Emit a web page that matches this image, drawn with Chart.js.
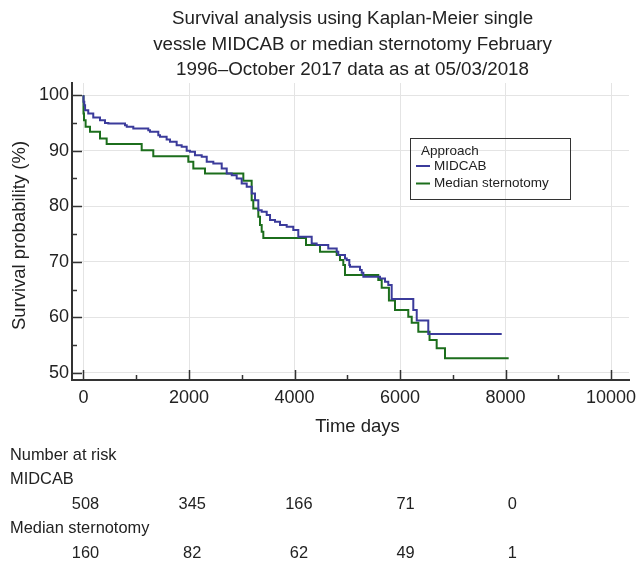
<!DOCTYPE html>
<html>
<head>
<meta charset="utf-8">
<script src="https://cdn.jsdelivr.net/npm/chart.js@4/dist/chart.umd.min.js"></script>
<style>
  html, body { margin: 0; padding: 0; background: #fff; }
  #wrap { width: 640px; height: 563px; position: relative; }
</style>
</head>
<body>
<div id="wrap"><canvas id="c" width="640" height="563"></canvas></div>
<script>
// ---------------- data ----------------
const TITLE_LINES = [
  'Survival analysis using Kaplan-Meier single',
  'vessle MIDCAB or median sternotomy February',
  '1996\u2013October 2017 data as at 05/03/2018'
];
const X_TITLE = 'Time days';
const Y_TITLE = 'Survival probability (%)';
const LEGEND_TITLE = 'Approach';
const SERIES_NAMES = ['MIDCAB', 'Median sternotomy'];

const X_TICKS = [0, 2000, 4000, 6000, 8000, 10000];
const Y_TICKS = [50, 60, 70, 80, 90, 100];
const X_MINOR_TICKS = [1000, 3000, 5000, 7000, 9000];
const Y_MINOR_TICKS = [55, 65, 75, 85, 95];

const MIDCAB_DAYS = [0, 15, 30, 90, 185, 313, 408, 471, 787, 820, 944, 1228, 1260, 1418, 1450, 1576, 1640,
  1766, 1861, 1956, 2018, 2113, 2241, 2336, 2461, 2620, 2715, 2810, 2904, 2999, 3094, 3189, 3251, 3314,
  3378, 3473, 3536, 3630, 3725, 3852, 3977, 4072, 4326, 4420, 4640, 4800, 4830, 4957, 4990, 5039, 5052,
  5242, 5274, 5305, 5621, 5716, 5778, 5842, 6252, 6317, 6536, 6707, 7928];
const MIDCAB_SURV = [100, 98.8, 98.2, 97.3, 96.7, 96.0, 95.5, 95.0, 94.9, 94.6, 94.3, 94.0, 93.7, 93.4, 92.8, 92.5, 92.0,
  91.6, 91.0, 90.7, 90.0, 89.8, 89.2, 88.9, 88.0, 87.7, 86.8, 85.9, 85.6, 85.0, 84.1, 83.5, 82.3, 81.1,
  79.3, 79.0, 78.4, 77.5, 77.2, 76.6, 76.3, 75.7, 74.5, 73.3, 73.0, 72.4, 71.8, 71.2, 70.6, 70.3, 69.4,
  69.1, 68.5, 68.0, 67.3, 67.0, 66.4, 65.8, 63.3, 61.3, 59.4, 57.0, 57.0];

const STERN_DAYS = [0, 10, 40, 123, 313, 439, 1103, 1323, 1987, 2082, 2303, 3030, 3188, 3219, 3314, 3346,
  3378, 3409, 4218, 4483, 4800, 4862, 4925, 4957, 5588, 5653, 5790, 5905, 6157, 6222, 6347, 6560, 6695,
  6853, 7075, 8060];
const STERN_SURV = [100, 96.7, 95.5, 94.3, 93.4, 92.2, 91.2, 90.1, 89.0, 88.0, 86.8, 85.9, 84.6, 81.1, 79.6, 78.1,
  76.6, 75.4, 74.3, 73.0, 71.8, 71.2, 70.3, 69.4, 67.6, 66.7, 65.3, 63.0, 61.3, 60.1, 59.0, 57.4, 55.9,
  54.4, 52.6, 52.6];

const RISK_LABEL = 'Number at risk';
const RISK_TIMES = [0, 2000, 4000, 6000, 8000];
const RISK_MIDCAB = [508, 345, 166, 71, 0];
const RISK_STERN = [160, 82, 62, 49, 1];

// ---------------- styling ----------------
const FONT = "'Liberation Sans', Arial, Helvetica, sans-serif";
const TEXT = '#222222';
const BLUE = '#3b3b9b';
const GREEN = '#1c6e1c';
const AXIS = '#333333';

const kmPoints = (days, surv) => days.map((d, i) => ({ x: d, y: surv[i] }));

const extras = {
  id: 'extras',
  beforeDatasetsDraw(chart) {
    const { ctx, chartArea: a, scales: { x, y } } = chart;
    ctx.save();
    ctx.strokeStyle = AXIS;
    ctx.lineWidth = 1.5;
    const xt = (vals, len) => vals.forEach(v => {
      const px = Math.round(x.getPixelForValue(v)) + 0.5;
      ctx.beginPath(); ctx.moveTo(px, a.bottom); ctx.lineTo(px, a.bottom - len); ctx.stroke();
    });
    const yt = (vals, len) => vals.forEach(v => {
      const py = Math.round(y.getPixelForValue(v)) + 0.5;
      ctx.beginPath(); ctx.moveTo(a.left, py); ctx.lineTo(a.left + len, py); ctx.stroke();
    });
    xt(X_TICKS, 10); xt(X_MINOR_TICKS, 5);
    yt(Y_TICKS, 10); yt(Y_MINOR_TICKS, 5);
    ctx.restore();
  },
  afterDraw(chart) {
    const { ctx, chartArea: a, scales: { x } } = chart;
    ctx.save();
    ctx.fillStyle = TEXT;
    ctx.textBaseline = 'middle';
    const cx = (a.left + a.right) / 2;
    // title
    ctx.font = '18.8px ' + FONT;
    ctx.textAlign = 'center';
    TITLE_LINES.forEach((t, i) => ctx.fillText(t, cx + 2, 19 + i * 25.5));
    // x axis title
    ctx.font = '18.5px ' + FONT;
    ctx.fillText(X_TITLE, cx + 7, a.bottom + 47);
    // y axis title
    ctx.save();
    ctx.translate(20, (a.top + a.bottom) / 2 + 4);
    ctx.rotate(-Math.PI / 2);
    ctx.fillText(Y_TITLE, 0, 0);
    ctx.restore();

    // legend
    const lx = a.left + 338, ly = a.top + 55, lw = 160, lh = 61;
    ctx.strokeStyle = '#333';
    ctx.lineWidth = 1;
    ctx.strokeRect(lx + 0.5, ly + 0.5, lw, lh);
    ctx.font = '13.5px ' + FONT;
    ctx.textAlign = 'left';
    ctx.fillText(LEGEND_TITLE, lx + 11, ly + 13);
    chart.data.datasets.forEach((ds, i) => {
      const yy = ly + 28 + i * 17.5;
      ctx.strokeStyle = ds.borderColor;
      ctx.lineWidth = 2;
      ctx.beginPath(); ctx.moveTo(lx + 6, yy); ctx.lineTo(lx + 20, yy); ctx.stroke();
      ctx.fillText(ds.label, lx + 24, yy);
    });

    // number at risk table
    ctx.font = '16.4px ' + FONT;
    ctx.textAlign = 'left';
    ctx.fillText(RISK_LABEL, 10, 455);
    ctx.fillText(SERIES_NAMES[0], 10, 479);
    ctx.fillText(SERIES_NAMES[1], 10, 528);
    ctx.textAlign = 'center';
    RISK_TIMES.forEach((t, i) => {
      const px = x.getPixelForValue(t) + 2 + i * 1.2;
      ctx.fillText(String(RISK_MIDCAB[i]), px, 504);
      ctx.fillText(String(RISK_STERN[i]), px, 553);
    });
    ctx.restore();
  }
};

new Chart(document.getElementById('c'), {
  type: 'line',
  data: {
    datasets: [
      { label: SERIES_NAMES[0], data: kmPoints(MIDCAB_DAYS, MIDCAB_SURV), borderColor: BLUE,
        borderWidth: 2, stepped: 'after', pointRadius: 0, fill: false },
      { label: SERIES_NAMES[1], data: kmPoints(STERN_DAYS, STERN_SURV), borderColor: GREEN,
        borderWidth: 2, stepped: 'after', pointRadius: 0, fill: false }
    ]
  },
  options: {
    responsive: false,
    animation: false,
    events: [],
    layout: { padding: { top: 83, right: 11, bottom: 123, left: 0 } },
    plugins: { legend: { display: false }, title: { display: false }, tooltip: { enabled: false } },
    scales: {
      x: {
        type: 'linear', min: -218, max: 10341,
        afterBuildTicks: s => { s.ticks = X_TICKS.map(v => ({ value: v })); },
        afterFit: s => { s.height = 60; s.paddingLeft = 0; s.paddingRight = 0; },
        ticks: { font: { family: FONT, size: 18 }, color: TEXT, padding: 7, maxRotation: 0,
                 callback: v => String(v) },
        grid: { color: '#e4e4e4', lineWidth: 1, drawTicks: false },
        border: { display: true, color: AXIS, width: 2 }
      },
      y: {
        type: 'linear', min: 48.7, max: 102.2,
        afterBuildTicks: s => { s.ticks = Y_TICKS.map(v => ({ value: v })); },
        afterFit: s => { s.width = 72; s.paddingTop = 0; s.paddingBottom = 0; },
        ticks: { font: { family: FONT, size: 18 }, color: TEXT, padding: 3, callback: v => String(v) },
        grid: { color: '#e4e4e4', lineWidth: 1, drawTicks: false },
        border: { display: true, color: AXIS, width: 2 }
      }
    }
  },
  plugins: [extras]
});
</script>
</body>
</html>
